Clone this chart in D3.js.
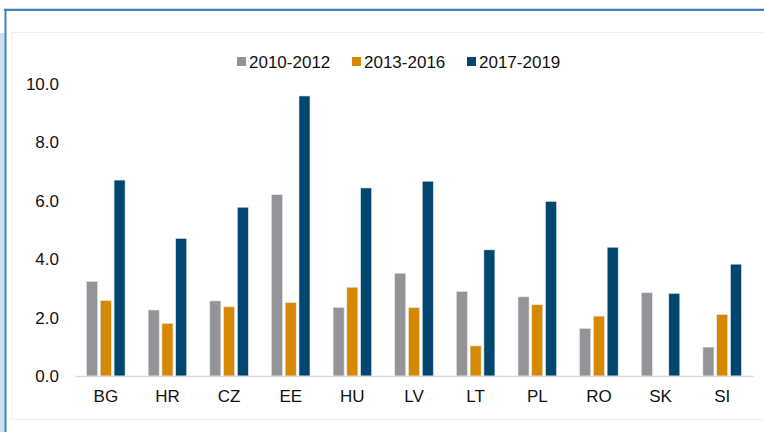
<!DOCTYPE html>
<html>
<head>
<meta charset="utf-8">
<script src="https://cdn.jsdelivr.net/npm/d3@7"></script>
<style>
  body { margin: 0; background: #fff; }
  svg { display: block; font-family: "Liberation Sans", Arial, sans-serif; }
</style>
</head>
<body>
<svg id="chart" width="764" height="432"></svg>
<script>
// data
var countries = ["BG", "HR", "CZ", "EE", "HU", "LV", "LT", "PL", "RO", "SK", "SI"];
var seriesNames = ["2010-2012", "2013-2016", "2017-2019"];
var s2010 = [3.24, 2.26, 2.57, 6.21, 2.35, 3.52, 2.89, 2.71, 1.63, 2.85, 0.99];
var s2013 = [2.58, 1.80, 2.37, 2.51, 3.04, 2.34, 1.03, 2.44, 2.05, null, 2.10];
var s2017 = [6.71, 4.71, 5.78, 9.59, 6.44, 6.67, 4.32, 5.98, 4.41, 2.83, 3.83];
var yTicks = [0, 2, 4, 6, 8, 10];
var colors = ["#939398", "#d68800", "#00466f"];

var svg = d3.select("#chart");

// frame around the chart
svg.append("rect").attr("x", 0).attr("y", 33).attr("width", 5).attr("height", 399).attr("fill", "#cfe0ee");
svg.append("line").attr("x1", 4).attr("x2", 764).attr("y1", 8.5).attr("y2", 8.5).attr("stroke", "#c7d8ea").attr("stroke-width", 1);
svg.append("line").attr("x1", 4).attr("x2", 764).attr("y1", 10).attr("y2", 10).attr("stroke", "#4a7fbd").attr("stroke-width", 2);
svg.append("line").attr("x1", 5.5).attr("x2", 5.5).attr("y1", 9).attr("y2", 432).attr("stroke", "#4a7fbd").attr("stroke-width", 2);
svg.append("path").attr("d", "M764,32.5H11.5V419.5H764").attr("fill", "none").attr("stroke", "#efefef").attr("stroke-width", 1);

var margin = {left: 75, right: 11, top: 84, bottom: 56};
var width = 764 - margin.left - margin.right,
    height = 432 - margin.top - margin.bottom;

var g = svg.append("g").attr("transform", "translate(" + margin.left + "," + margin.top + ")");

var x0 = d3.scaleBand().domain(countries).range([0, width])
    .paddingInner(0.375).paddingOuter(0.1875);
var x1 = d3.scaleBand().domain(seriesNames).range([0, x0.bandwidth()]).paddingInner(0.2);
var y = d3.scaleLinear().domain([0, 10]).range([height, 0]);

// y axis labels, no line
var yAxis = g.append("g")
    .call(d3.axisLeft(y).tickValues(yTicks).tickFormat(d3.format(".1f")).tickSize(0).tickPadding(16));
yAxis.select(".domain").remove();
yAxis.selectAll("text").attr("font-size", 17).attr("fill", "#111").attr("font-family", "Liberation Sans, Arial, sans-serif");

var table = countries.map(function(c, i) {
  return {country: c, values: [s2010[i], s2013[i], s2017[i]]};
});

var groups = g.selectAll("g.grp").data(table).enter().append("g")
    .attr("class", "grp")
    .attr("transform", function(d) { return "translate(" + x0(d.country) + ",0)"; });

groups.selectAll("rect")
    .data(function(d) {
      return d.values.map(function(v, k) { return {name: seriesNames[k], value: v, k: k}; })
        .filter(function(e) { return e.value != null; });
    })
    .enter().append("rect")
    .attr("x", function(d) { return x1(d.name); })
    .attr("y", function(d) { return y(d.value); })
    .attr("width", x1.bandwidth())
    .attr("height", function(d) { return height - y(d.value); })
    .attr("fill", function(d) { return colors[d.k]; })
    .attr("stroke", "#dfe6ee")
    .attr("stroke-width", 0.6);

// x axis
var xAxis = g.append("g").attr("transform", "translate(0," + height + ")")
    .call(d3.axisBottom(x0).tickSize(0).tickPadding(14));
xAxis.select(".domain").attr("stroke", "#d9d9d9").attr("stroke-width", 1.5);
xAxis.selectAll("text").attr("font-size", 17).attr("fill", "#111").attr("font-family", "Liberation Sans, Arial, sans-serif");

// legend
var legendX = [237, 352, 467];
var legend = svg.append("g");
seriesNames.forEach(function(n, k) {
  legend.append("rect").attr("x", legendX[k]).attr("y", 57).attr("width", 9).attr("height", 9).attr("fill", colors[k]);
  legend.append("text").attr("x", legendX[k] + 12).attr("y", 68)
      .attr("font-size", 17).attr("fill", "#111").text(n);
});
</script>
</body>
</html>
